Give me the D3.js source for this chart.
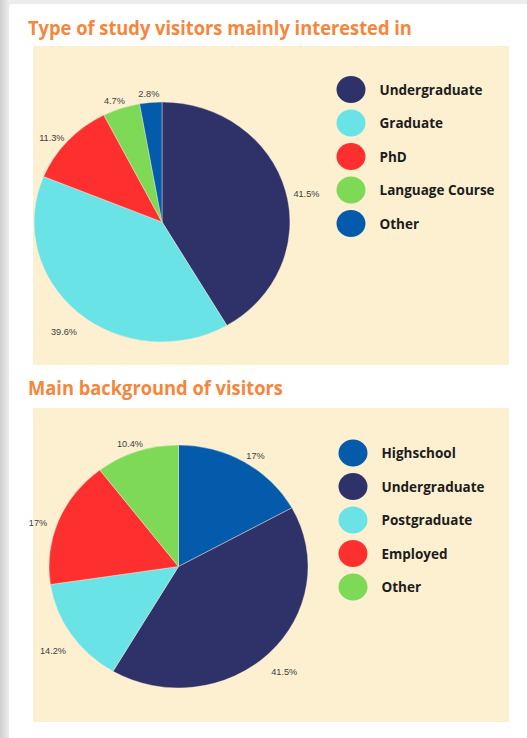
<!DOCTYPE html>
<html lang="en">
<head>
<meta charset="UTF-8">
<title>Visitors survey</title>
<script src="https://cdn.jsdelivr.net/npm/d3@7"></script>
<style>
body {
    margin: 0;
    background-color: #ffffff;
}
svg {
    display: block;
}
</style>
</head>
<body>
<svg id="chart"></svg>
<script>
// Chart data
const studyTypes = ["Undergraduate", "Graduate", "PhD", "Language Course", "Other"];
const studyShares = [41.5, 39.6, 11.3, 4.7, 2.8];
const studyColors = ["#2f3269", "#6ae3e7", "#fe2f2f", "#7ed957", "#055bab"];

const backgrounds = ["Highschool", "Undergraduate", "Postgraduate", "Employed", "Other"];
const backgroundShares = [17, 41.5, 14.2, 17, 10.4];
const backgroundColors = ["#055bab", "#2f3269", "#6ae3e7", "#fe2f2f", "#7ed957"];

const titles = ["Type of study visitors mainly interested in", "Main background of visitors"];

const width = 527, height = 738;
const svg = d3.select("#chart").attr("width", width).attr("height", height);

// page background with the card edge on the left/top
const defs = svg.append("defs");
const grad = defs.append("linearGradient").attr("id", "edge");
grad.append("stop").attr("offset", "0%").attr("stop-color", "#cfcfcf");
grad.append("stop").attr("offset", "100%").attr("stop-color", "#efefef");
svg.append("rect").attr("width", width).attr("height", height).attr("fill", "#ececec");
svg.append("rect").attr("width", 10).attr("height", height).attr("fill", "url(#edge)");
svg.append("rect").attr("x", 9).attr("y", 4).attr("width", width).attr("height", height)
    .attr("rx", 4).attr("fill", "#ffffff");

// one block per chart
const blocks = [
    { title: titles[0], titleY: 34.5, panel: [33, 46, 476, 319],
      names: studyTypes, values: studyShares, colors: studyColors,
      cx: 162, cy: 222, ry: 120, legendX: 351, legendY: 89.5 },
    { title: titles[1], titleY: 394.5, panel: [33, 408, 476, 314],
      names: backgrounds, values: backgroundShares, colors: backgroundColors,
      cx: 178.5, cy: 566.5, ry: 121.5, legendX: 353, legendY: 453 }
];

const stretch = 1.066;   // pies are slightly wider than tall
const rowStep = 33.5;
const condense = 0.963;  // titles use a narrower face in the original

blocks.forEach(b => {
    const g = svg.append("g");

    const title = g.append("text")
        .attr("x", 28).attr("y", b.titleY)
        .attr("fill", "#f5863c")
        .attr("font-family", "'Open Sans', sans-serif")
        .attr("font-weight", 700)
        .attr("font-size", 19)
        .text(b.title);
    title.attr("textLength", title.node().getComputedTextLength() * condense)
        .attr("lengthAdjust", "spacingAndGlyphs");

    g.append("rect")
        .attr("x", b.panel[0]).attr("y", b.panel[1])
        .attr("width", b.panel[2]).attr("height", b.panel[3])
        .attr("fill", "#fcf0d0");

    const pie = d3.pie().sort(null).value(d => d);
    const arcs = pie(b.values);
    const arc = d3.arc().innerRadius(0).outerRadius(b.ry);
    const labelArc = d3.arc().innerRadius(b.ry).outerRadius(b.ry);

    g.append("g")
        .attr("transform", `translate(${b.cx},${b.cy}) scale(${stretch},1)`)
        .selectAll("path")
        .data(arcs)
        .join("path")
        .attr("d", arc)
        .attr("fill", (d, i) => b.colors[i])
        .attr("stroke", "#f4ecd8")
        .attr("stroke-width", 0.4);

    g.append("g")
        .selectAll("text")
        .data(arcs)
        .join("text")
        .attr("x", d => b.cx + labelArc.centroid(d)[0] * stretch * 1.17)
        .attr("y", d => b.cy + labelArc.centroid(d)[1] * 1.13 + 7.5)
        .attr("text-anchor", "middle")
        .attr("dominant-baseline", "central")
        .attr("font-family", "'Liberation Sans', Arial, sans-serif")
        .attr("font-size", 9.2)
        .attr("fill", "#404040")
        .text(d => d.data + "%");

    // legend
    const legend = g.append("g")
        .selectAll("g")
        .data(b.names)
        .join("g")
        .attr("transform", (d, i) => `translate(${b.legendX},${b.legendY + i * rowStep})`);

    legend.append("ellipse")
        .attr("rx", 14.5).attr("ry", 13.5)
        .attr("fill", (d, i) => b.colors[i]);

    legend.append("text")
        .attr("x", 28.5)
        .attr("dominant-baseline", "central")
        .attr("font-family", "'Open Sans', sans-serif")
        .attr("font-weight", 700)
        .attr("font-size", 13.5)
        .attr("fill", "#1c1c1c")
        .text(d => d);
});
</script>
</body>
</html>
